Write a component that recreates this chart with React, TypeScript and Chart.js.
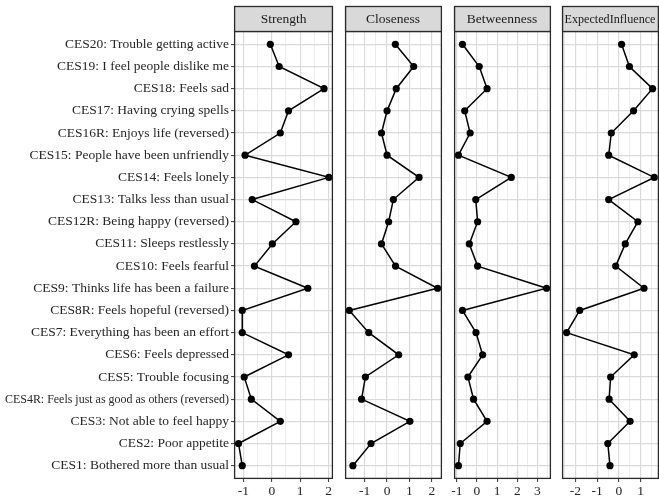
import React, { useEffect, useRef } from "react";
import { Chart, registerables } from "chart.js";
Chart.register(...registerables);

// Nodes from bottom (index 0) to top (index 19)
const nodeLabels: string[] = [
  "CES1: Bothered more than usual",
  "CES2: Poor appetite",
  "CES3: Not able to feel happy",
  "CES4R: Feels just as good as others (reversed)",
  "CES5: Trouble focusing",
  "CES6: Feels depressed",
  "CES7: Everything has been an effort",
  "CES8R: Feels hopeful (reversed)",
  "CES9: Thinks life has been a failure",
  "CES10: Feels fearful",
  "CES11: Sleeps restlessly",
  "CES12R: Being happy (reversed)",
  "CES13: Talks less than usual",
  "CES14: Feels lonely",
  "CES15: People have been unfriendly",
  "CES16R: Enjoys life (reversed)",
  "CES17: Having crying spells",
  "CES18: Feels sad",
  "CES19: I feel people dislike me",
  "CES20: Trouble getting active",
];

const strengthValues: number[] = [-1.04, -1.17, 0.3, -0.72, -0.97, 0.59, -1.04, -1.04, 1.27, -0.61, 0.02, 0.85, -0.69, 2.01, -0.94, 0.3, 0.59, 1.84, 0.26, -0.05];
const closenessValues: number[] = [-1.53, -0.72, 1.02, -1.14, -0.97, 0.52, -0.82, -1.69, 2.26, 0.38, -0.25, 0.07, 0.28, 1.43, 0.0, -0.25, 0.0, 0.41, 1.19, 0.37];
const betweennessValues: number[] = [-0.92, -0.83, 0.5, -0.17, -0.45, 0.28, -0.05, -0.72, 3.45, 0.03, -0.38, 0.03, -0.06, 1.7, -0.92, -0.34, -0.61, 0.5, 0.11, -0.72];
const expectedInfluenceValues: number[] = [-0.41, -0.51, 0.51, -0.45, -0.38, 0.7, -2.4, -1.8, 1.15, -0.15, 0.29, 0.87, -0.47, 1.62, -0.47, -0.35, 0.67, 1.54, 0.48, 0.12];

const facetTitles: string[] = ["Strength", "Closeness", "Betweenness", "ExpectedInfluence"];
const facetValues: number[][] = [strengthValues, closenessValues, betweennessValues, expectedInfluenceValues];
const facetMin: number[] = [-1.33, -1.9, -1.16, -2.63];
const facetMax: number[] = [2.17, 2.43, 3.64, 1.81];

const FONT = "'Liberation Serif', 'Times New Roman', serif";
const FONT_SIZE = 13.5;
const TEXT_COLOR = "#262626";
const PANEL_LEFTS = [234, 342, 451, 559];
const PANEL_W = 102;
const H = 499;

function Panel({ idx }: { idx: number }) {
  const ref = useRef<HTMLCanvasElement | null>(null);
  const first = idx === 0;
  const yAxisWidth = first ? PANEL_LEFTS[0] : 0;
  const padLeft = first ? 0 : 1;
  const canvasLeft = first ? 0 : PANEL_LEFTS[idx] - 1;
  const canvasW = yAxisWidth + padLeft + PANEL_W + 1;

  useEffect(() => {
    if (!ref.current) return;
    const values = facetValues[idx];
    const min = facetMin[idx];
    const max = facetMax[idx];
    const title = facetTitles[idx];

    const facetPlugin = {
      id: "facet" + idx,
      beforeDraw(chart: any) {
        const ctx = chart.ctx;
        ctx.save();
        ctx.fillStyle = "#ffffff";
        ctx.fillRect(0, 0, chart.width, chart.height);
        ctx.restore();
      },
      afterDraw(chart: any) {
        const ctx = chart.ctx;
        const a = chart.chartArea;
        ctx.save();
        // panel border
        ctx.strokeStyle = "#2a2a2a";
        ctx.lineWidth = 1.3;
        ctx.strokeRect(Math.round(a.left) + 0.6, Math.round(a.top) + 0.5, Math.round(a.right - a.left) - 1.2, Math.round(a.bottom - a.top) - 1.1);
        // strip
        const stripTop = 6;
        ctx.fillStyle = "#D9D9D9";
        ctx.fillRect(a.left, stripTop, a.right - a.left, a.top - stripTop);
        ctx.strokeRect(Math.round(a.left) + 0.6, stripTop + 0.5, Math.round(a.right - a.left) - 1.2, Math.round(a.top - stripTop));
        ctx.fillStyle = "#1A1A1A";
        ctx.font = FONT_SIZE + "px " + FONT;
        ctx.textAlign = "center";
        ctx.textBaseline = "middle";
        ctx.fillText(title, (a.left + a.right) / 2, (stripTop + a.top) / 2 + 1, 91);
        // condensed long label
        if (first) {
          const y = chart.scales.y.getPixelForValue(3);
          ctx.fillStyle = TEXT_COLOR;
          ctx.textAlign = "right";
          ctx.fillText(nodeLabels[3], a.left - 5, y, 224);
        }
        ctx.restore();
      },
    };

    const chart = new Chart(ref.current, {
      type: "scatter",
      data: {
        datasets: [
          {
            data: values.map((v, i) => ({ x: v, y: i })),
            showLine: true,
            borderColor: "#000000",
            borderWidth: 1.5,
            pointRadius: 3.6,
            pointBackgroundColor: "#000000",
            pointBorderWidth: 0,
            pointHoverRadius: 3.6,
          },
        ],
      },
      options: {
        responsive: false,
        animation: false,
        devicePixelRatio: 1,
        events: [],
        layout: { padding: { top: 31, left: padLeft, right: 1, bottom: 0 } },
        plugins: { legend: { display: false }, tooltip: { enabled: false } },
        scales: {
          x: {
            type: "linear",
            min,
            max,
            afterBuildTicks: (s: any) => {
              const t: any[] = [];
              for (let k = Math.ceil(min * 2); k <= Math.floor(max * 2); k++) t.push({ value: k / 2 });
              s.ticks = t;
            },
            afterFit: (s: any) => {
              s.height = 20;
            },
            border: { display: false },
            grid: {
              color: (c: any) => (Number.isInteger(c.tick?.value) ? "#DADADA" : "#E8E8E8"),
              lineWidth: (c: any) => (Number.isInteger(c.tick?.value) ? 1.2 : 0.8),
              drawTicks: true,
              tickLength: 3,
              tickColor: (c: any) => (Number.isInteger(c.tick?.value) ? "#333333" : "rgba(0,0,0,0)"),
              tickWidth: 1,
            },
            ticks: {
              autoSkip: false,
              maxRotation: 0,
              padding: 1,
              color: TEXT_COLOR,
              font: { family: FONT, size: FONT_SIZE },
              callback: (v: any) => (Number.isInteger(v) ? String(v) : ""),
            },
          },
          y: {
            type: "linear",
            min: -0.6,
            max: 19.6,
            afterBuildTicks: (s: any) => {
              s.ticks = nodeLabels.map((_, i) => ({ value: i }));
            },
            afterFit: (s: any) => {
              s.width = yAxisWidth;
            },
            border: { display: false },
            grid: {
              color: "#DADADA",
              lineWidth: 1.2,
              drawTicks: first,
              tickLength: first ? 3 : 0,
              tickColor: "#333333",
              tickWidth: 1,
            },
            ticks: {
              display: first,
              autoSkip: false,
              padding: 2,
              color: TEXT_COLOR,
              font: { family: FONT, size: FONT_SIZE },
              callback: (v: any) => (v === 3 ? "" : nodeLabels[v as number] ?? ""),
            },
          },
        },
      },
      plugins: [facetPlugin],
    } as any);
    return () => chart.destroy();
  }, []);

  return (
    <canvas
      ref={ref}
      width={canvasW}
      height={H}
      style={{ position: "absolute", left: canvasLeft, top: 0, width: canvasW, height: H }}
    />
  );
}

export default function App() {
  return (
    <div style={{ position: "absolute", left: 0, top: 0, width: 659, height: 499, overflow: "hidden", background: "#ffffff" }}>
      {facetTitles.map((_, i) => (
        <Panel key={i} idx={i} />
      ))}
    </div>
  );
}
